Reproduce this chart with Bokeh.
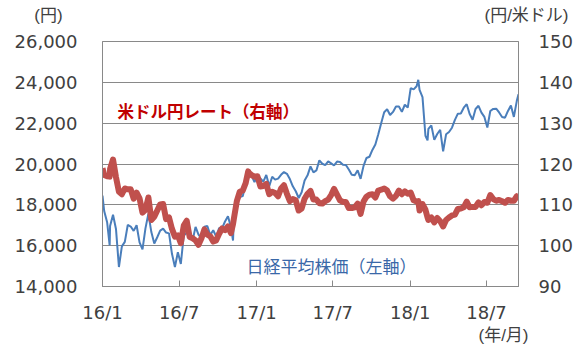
import pandas as pd
from bokeh.plotting import figure
from bokeh.models import Range1d, LinearAxis, FixedTicker, Label, NumeralTickFormatter
from bokeh.embed import file_html
from bokeh.resources import INLINE

# ---- data (weekly Friday readings, 2016/1 - 2018/9) ----
weekly_dates = pd.date_range("2016-01-08", "2018-09-14", freq="W-FRI")

nikkei_2016 = [17698, 17147, 16958, 17518, 16819, 14953, 15967, 16188, 17014, 16938, 16724, 17002,
               16164, 15821, 16848, 17572, 16666, 16106, 16412, 16736, 16834, 16642, 16601, 15600,
               14952, 15682, 15106, 16497, 16627, 16569, 16254, 16919, 16545, 16360, 16925, 16965,
               16519, 16754, 16450, 16860, 16856, 17184, 17446, 16905, 17374, 17967, 18381, 18426,
               18996, 19401, 19428, 19114]
nikkei_2017 = [19454, 19287, 19137, 19467, 18918, 19378, 19235, 19283, 19469, 19604, 19521, 19262,
               18909, 18664, 18335, 18620, 19197, 19445, 19883, 19590, 19686, 20177, 20013, 19943,
               20132, 20033, 19929, 20118, 20099, 19959, 19952, 19729, 19470, 19452, 19691, 19274,
               19909, 20296, 20356, 20690, 20954, 21457, 22008, 22539, 22681, 22397, 22550, 22819,
               22811, 22553, 22902, 22765]
nikkei_2018 = [23715, 23653, 23808, 23631, 23274, 21382, 21720, 21892, 21181, 21469, 21676, 20617,
               21454, 21567, 21778, 22162, 22467, 22472, 22758, 22930, 22450, 22171, 22694, 22851,
               22516, 22305, 21788, 22597, 22698, 22712, 22525, 22298, 22270, 22601, 22865, 22307,
               23094]

usdjpy_2016 = [117.3, 117.0, 118.8, 121.1, 116.8, 113.2, 112.6, 114.0, 113.8, 113.8, 111.5, 113.0,
               111.6, 108.1, 108.8, 111.8, 106.3, 107.1, 108.6, 110.1, 110.2, 106.5, 106.9, 104.1,
               102.2, 102.5, 100.6, 104.9, 106.1, 102.1, 101.8, 101.3, 100.2, 101.8, 104.0, 102.7,
               102.3, 101.0, 101.3, 102.9, 104.2, 103.8, 104.7, 103.1, 106.6, 110.9, 113.2, 113.5,
               115.3, 117.9, 117.3, 116.9]
usdjpy_2017 = [117.0, 114.5, 114.6, 115.1, 112.6, 113.2, 112.9, 112.1, 114.0, 114.8, 112.7, 110.9,
               111.4, 111.1, 108.6, 109.1, 111.5, 112.7, 113.4, 111.3, 111.3, 110.4, 110.3, 110.9,
               111.3, 112.4, 113.9, 112.5, 111.1, 110.7, 110.7, 109.2, 109.2, 109.4, 110.3, 107.8,
               110.8, 112.0, 112.5, 112.6, 111.8, 113.5, 113.7, 114.0, 113.5, 112.1, 111.5, 112.2,
               113.5, 112.6, 113.3, 112.7]
usdjpy_2018 = [113.0, 111.1, 110.8, 108.6, 110.2, 108.8, 106.3, 106.9, 105.7, 106.8, 106.0, 104.7,
               106.3, 106.9, 107.4, 107.6, 109.0, 109.1, 109.4, 110.8, 109.4, 109.5, 109.5, 110.6,
               109.9, 110.7, 110.5, 112.4, 111.4, 111.0, 111.2, 110.9, 110.5, 111.2, 111.0, 111.0,
               112.1]

extra_dates = ["2016-01-04", "2016-01-21", "2016-11-09", "2016-12-15", "2018-01-23", "2018-02-14",
               "2018-09-18"]
extra_nikkei = [18450, 16017, 16251, 19273, 24124, 21154, 23420]
extra_usdjpy = [119.0, 116.9, 105.3, 118.2, 110.9, 106.9, 112.3]

tick_dates = ["2016-01-04", "2016-07-04", "2017-01-04", "2017-07-04", "2018-01-04", "2018-07-04"]
tick_labels = ["16/1", "16/7", "17/1", "17/7", "18/1", "18/7"]
left_ticks = [14000, 16000, 18000, 20000, 22000, 24000, 26000]
right_ticks = [90, 100, 110, 120, 130, 140, 150]

df = pd.concat([
    pd.DataFrame({"date": weekly_dates,
                  "nikkei": nikkei_2016 + nikkei_2017 + nikkei_2018,
                  "usdjpy": usdjpy_2016 + usdjpy_2017 + usdjpy_2018}),
    pd.DataFrame({"date": pd.to_datetime(extra_dates), "nikkei": extra_nikkei, "usdjpy": extra_usdjpy}),
]).sort_values("date").reset_index(drop=True)

# ---- figure geometry ----
W, H = 579, 357
FL, FR, FT, FB = 102, 518, 41, 286
x0 = pd.Timestamp("2016-01-04").value / 1e6
x1 = pd.Timestamp("2018-09-18").value / 1e6

p = figure(width=W, height=H, x_axis_type="datetime",
           x_range=Range1d(x0, x1), y_range=Range1d(14000, 26000),
           output_backend="svg", toolbar_location=None,
           min_border_left=FL, min_border_right=W - FR,
           min_border_top=FT, min_border_bottom=H - FB)
p.extra_y_ranges = {"usd": Range1d(90, 150)}
p.background_fill_color = "white"
p.border_fill_color = "white"
p.outline_line_color = "#898989"

GRAY = "#898989"
TXT = "#404040"
TICKFONT = "DejaVu Sans"

# x axis
xa = p.xaxis[0]
tick_ms = [pd.Timestamp(d).value / 1e6 for d in tick_dates]
xa.ticker = FixedTicker(ticks=tick_ms)
xa.major_label_overrides = {t: l for t, l in zip(tick_ms, tick_labels)}
xa.major_tick_in = 6
xa.major_tick_out = 0
xa.minor_tick_line_color = None
xa.axis_line_color = GRAY
xa.major_tick_line_color = GRAY
xa.major_label_standoff = 15
xa.major_label_text_font = TICKFONT
xa.major_label_text_font_size = "18px"
xa.major_label_text_color = TXT

# left axis
ya = p.yaxis[0]
ya.ticker = FixedTicker(ticks=left_ticks)
ya.formatter = NumeralTickFormatter(format="0,0")
ya.major_tick_in = 0
ya.major_tick_out = 0
ya.minor_tick_line_color = None
ya.axis_line_color = GRAY
ya.major_label_standoff = 25
ya.major_label_text_font = TICKFONT
ya.major_label_text_font_size = "18px"
ya.major_label_text_color = TXT

# right axis
ra = LinearAxis(y_range_name="usd", ticker=FixedTicker(ticks=right_ticks))
ra.major_tick_in = 0
ra.major_tick_out = 0
ra.minor_tick_line_color = None
ra.axis_line_color = GRAY
ra.major_label_standoff = 20
ra.major_label_text_font = TICKFONT
ra.major_label_text_font_size = "18px"
ra.major_label_text_color = TXT
p.add_layout(ra, "right")

p.xgrid.grid_line_color = None
p.ygrid.grid_line_color = GRAY
p.ygrid.grid_line_width = 1

# series
p.line(df["date"], df["nikkei"], line_color="#4A7EBB", line_width=2)
p.line(df["date"], df["usdjpy"], line_color="#C0504D", line_width=6,
       line_join="round", y_range_name="usd")

# annotations positioned by pixel
def px_x(px):
    return x0 + (px - FL) / (FR - FL) * (x1 - x0)

def px_y(py):
    return 26000 - (py - FT) / (FB - FT) * 12000

CJK = "Noto Sans CJK JP"
SIDEFONT = "Liberation Sans, Noto Sans CJK JP"
annos = [
    ("米ドル円レート（右軸）", 117, 110, "left", "#C00000", "16.5px", "bold", "center", CJK),
    ("日経平均株価（左軸）", 246, 265, "left", "#3A68A8", "17px", "normal", "center", CJK),
    ("(円)", 48, 15, "center", TXT, "17px", "normal", "above", SIDEFONT),
    ("(円/米ドル)", 526, 15, "center", TXT, "17px", "normal", "above", SIDEFONT),
    ("(年/月)", 503, 335, "center", TXT, "17px", "normal", "below", SIDEFONT),
]
for text, px, py, align, color, size, style, place, font in annos:
    lab = Label(x=px_x(px), y=px_y(py), text=text, text_align=align,
                text_baseline="middle", text_color=color, text_font=font,
                text_font_size=size, text_font_style=style)
    p.add_layout(lab, place)

open("out.html", "w").write(file_html(p, INLINE))
